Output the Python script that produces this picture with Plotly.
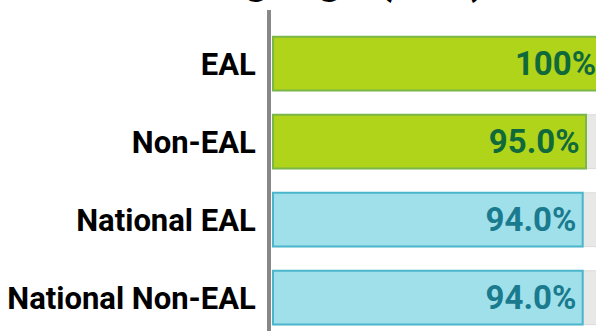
import plotly.graph_objects as go

categories = ["EAL", "Non-EAL", "National EAL", "National Non-EAL"]
values = [100, 95.0, 94.0, 94.0]
track_max = [100, 100, 100, 100]
title_text = "Language (EAL)"

fill_colors = ["#b0d41a", "#b0d41a", "#a0e0ea", "#a0e0ea"]
line_colors = ["#7ab648", "#7ab648", "#4ab6cc", "#4ab6cc"]
text_colors = ["#10693a", "#10693a", "#1a7a8e", "#1a7a8e"]

labels = [("100%" if v == 100 else f"{v:.1f}%") + "\u200a" for v in values]

FONT = "Roboto"

fig = go.Figure()
fig.add_trace(go.Bar(
    y=categories, x=track_max, orientation="h",
    marker=dict(color="#e8e8e6", line=dict(color="#dadad8", width=1)),
    hoverinfo="skip", showlegend=False,
))
fig.add_trace(go.Bar(
    y=categories, x=values, orientation="h",
    marker=dict(color=fill_colors, line=dict(color=line_colors, width=2)),
    text=labels, textposition="inside", insidetextanchor="end",
    textangle=0,
    insidetextfont=dict(family=FONT, size=33, color=text_colors, weight="bold"),
    showlegend=False,
))

W, H = 596, 331
L, T = 271, 10
scale = 3.2947  # px per percent
xmin = -(273 - L) / scale
xmax = (W - L) / scale + xmin
row = 78.0
c0 = 63.7

fig.update_layout(
    width=W, height=H,
    margin=dict(l=L, r=0, t=T, b=0, pad=0, autoexpand=False),
    barmode="overlay", bargap=0.31,
    plot_bgcolor="white", paper_bgcolor="white",
    font=dict(family=FONT),
    annotations=[dict(
        text=title_text, xref="paper", yref="paper",
        x=(329 - L) / (W - L), y=1, xanchor="center", yanchor="middle",
        yshift=32, showarrow=False,
        font=dict(family=FONT, size=44, color="black", weight="bold"),
    )],
    xaxis=dict(range=[xmin, xmax], visible=False, fixedrange=True, automargin=False),
    yaxis=dict(
        type="category", automargin=False,
        categoryorder="array", categoryarray=categories,
        range=[(H - c0) / row, -(c0 - T) / row],
        showline=True, linecolor="#888888", linewidth=4,
        ticks="", ticklen=0, showgrid=False, zeroline=False,
        tickfont=dict(family=FONT, size=31, color="black", weight="bold"),
        ticklabelstandoff=5,
    ),
)

fig.write_html(
    "out.html",
    config={"displayModeBar": False, "staticPlot": True},
    post_script="document.body.style.margin='0';document.body.style.overflow='hidden';",
)
